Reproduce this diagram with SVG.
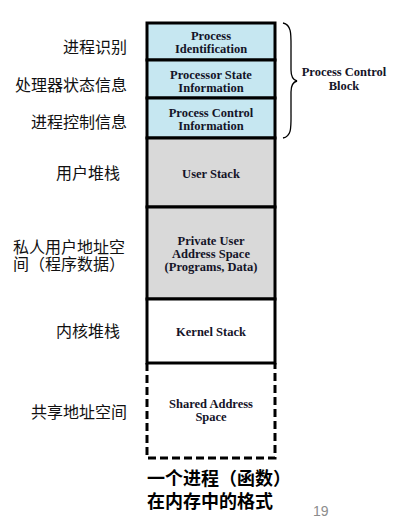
<svg xmlns="http://www.w3.org/2000/svg" width="410" height="524" viewBox="0 0 410 524">
<style>
.cn{font-family:"Noto Sans CJK SC","Noto Sans",sans-serif;font-size:16px;fill:#111}
.bx{font-family:"Liberation Serif","DejaVu Serif",serif;font-weight:bold;font-size:12.5px;fill:#141428;text-anchor:middle}
.blue{fill:#C6E7F1;stroke:#000;stroke-width:3}
.gray{fill:#D9D9D9;stroke:#000;stroke-width:3}
.white{fill:#fff;stroke:#000;stroke-width:3}
.dash{fill:none;stroke:#000;stroke-width:3;stroke-dasharray:8 4}
.ttl{font-family:"Noto Sans CJK SC","Noto Sans",sans-serif;font-size:18px;font-weight:bold;fill:#000}
</style>
<rect width="410" height="524" fill="#fff"/>
<g id="node-pid">
<rect class="blue" x="147" y="23" width="128" height="37"/>
<text class="bx" x="211" y="40">Process<tspan x="211" y="53">Identification</tspan></text>
</g>
<g id="node-pstate">
<rect class="blue" x="147" y="60" width="128" height="38"/>
<text class="bx" x="211" y="79">Processor State<tspan x="211" y="92">Information</tspan></text>
</g>
<g id="node-pcontrol">
<rect class="blue" x="147" y="98" width="128" height="40"/>
<text class="bx" x="211" y="117">Process Control<tspan x="211" y="130">Information</tspan></text>
</g>
<g id="node-userstack">
<rect class="gray" x="147" y="138" width="128" height="69"/>
<text class="bx" x="211" y="178">User Stack</text>
</g>
<g id="node-private">
<rect class="gray" x="147" y="207" width="128" height="92"/>
<text class="bx" x="211" y="245">Private User<tspan x="211" y="258">Address Space</tspan><tspan x="211" y="271">(Programs, Data)</tspan></text>
</g>
<g id="node-kernel">
<rect class="white" x="147" y="299" width="128" height="64"/>
<text class="bx" x="211" y="336">Kernel Stack</text>
</g>
<g id="node-shared">
<path class="dash" d="M147 363 V458 H275 V363"/>
<text class="bx" x="211" y="408">Shared Address<tspan x="211" y="421">Space</tspan></text>
</g>
<g id="connectors">
<path d="M283 23 C292 25 291 35 291 50 L291 70 C291 77 293 80 297 81 C293 82 291 85 291 92 L291 112 C291 127 292 136 283 138" fill="none" stroke="#000" stroke-width="1.3"/>
</g>
<g id="node-pcb">
<text class="bx" x="344" y="76">Process Control<tspan x="344" y="90">Block</tspan></text>
</g>
<g id="labels">
<text class="cn" x="127" y="53" text-anchor="end">进程识别</text>
<text class="cn" x="127" y="91" text-anchor="end">处理器状态信息</text>
<text class="cn" x="127" y="128" text-anchor="end">进程控制信息</text>
<text class="cn" x="120" y="179" text-anchor="end">用户堆栈</text>
<text class="cn" x="13" y="253">私人用户地址空<tspan x="13" y="270">间（程序数据）</tspan></text>
<text class="cn" x="120" y="337" text-anchor="end">内核堆栈</text>
<text class="cn" x="127" y="418" text-anchor="end">共享地址空间</text>
</g>
<g id="title">
<text class="ttl" x="147" y="485">一个进程（函数）<tspan x="147" y="508">在内存中的格式</tspan></text>
<text x="313" y="516" font-family="Liberation Sans,sans-serif" font-size="14" fill="#8c8c8c">19</text>
</g>
</svg>
